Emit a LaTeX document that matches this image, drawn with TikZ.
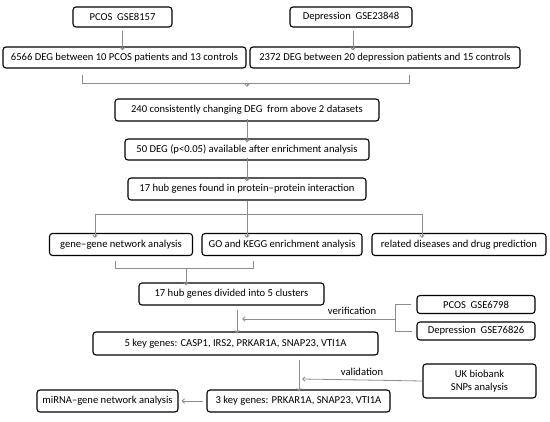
\documentclass[tikz,border=0pt]{standalone}
\usepackage{fontspec}
\setmainfont{Carlito}
\usetikzlibrary{arrows.meta}
\definecolor{lgray}{HTML}{8C8C8C}
\tikzset{
  box/.style={draw=black, line width=1.1pt, rounded corners=3pt, inner sep=0pt, align=center, font=\fontsize{10.6}{12.5}\selectfont},
  conn/.style={draw=lgray, line width=0.8pt},
  arr/.style={conn, -{Straight Barb[length=2.5pt,width=4.5pt]}},
  lbl/.style={font=\fontsize{10.6}{12.5}\selectfont, inner sep=0pt}
}
\begin{document}
\begin{tikzpicture}[x=1pt,y=-1pt]
\useasboundingbox (0,0) rectangle (550,422);
\node[box, minimum width=99, minimum height=20] (pcos1) at (122.5,17) {PCOS\ \ GSE8157};
\node[box, minimum width=122, minimum height=20] (dep1) at (351,17) {Depression\ \ GSE23848};
\node[box, minimum width=243, minimum height=21] (deg1) at (124.5,57.5) {6566 DEG between 10 PCOS patients and 13 controls};
\node[box, minimum width=270, minimum height=21] (deg2) at (385,57.5) {2372 DEG between 20 depression patients and 15 controls};
\node[box, minimum width=264, minimum height=22] (b240) at (247,110) {240 consistently changing DEG\ \ from above 2 datasets};
\node[box, minimum width=244, minimum height=21] (b50) at (247,149.5) {50 DEG (p<0.05) available after enrichment analysis};
\node[box, minimum width=238, minimum height=22] (hub) at (247,189) {17 hub genes found in protein–protein interaction};
\node[box, minimum width=143, minimum height=22] (gg) at (121,244.5) {gene–gene network analysis};
\node[box, minimum width=160, minimum height=22] (go) at (282,244.5) {GO and KEGG enrichment analysis};
\node[box, minimum width=174, minimum height=22] (rel) at (459,244.5) {related diseases and drug prediction};
\node[box, minimum width=185, minimum height=22] (div) at (231.5,294) {17 hub genes divided into 5 clusters};
\node[box, minimum width=118, minimum height=18] (pcos2) at (476,304.5) {PCOS\ \ GSE6798};
\node[box, minimum width=118, minimum height=18] (dep2) at (476,331) {Depression\ \ GSE76826};
\node[box, minimum width=285, minimum height=23] (key5) at (235.5,343.5) {5 key genes: CASP1, IRS2, PRKAR1A, SNAP23, VTI1A};
\node[box, minimum width=113, minimum height=34] (uk) at (479.5,381) {UK biobank\\SNPs analysis};
\node[box, minimum width=183, minimum height=22] (key3) at (298.5,401) {3 key genes: PRKAR1A, SNAP23, VTI1A};
\node[box, minimum width=141, minimum height=22] (mir) at (107.5,401) {miRNA–gene network analysis};
% top arrows
\draw[arr] (pcos1.south) ++(0,3) -- ([yshift=-4]deg1.north -| pcos1.south);
\draw[arr] (dep1.south) ++(2,3) coordinate (d1s) -- ([yshift=-4]deg2.north -| d1s);
% bracket under DEG boxes
\coordinate (bl) at (82,75);
\coordinate (br) at (409,75);
\coordinate (bm) at (247,83);
\draw[conn] (bl) -- (bl |- bm) -- (br |- bm) -- (br);
\draw[arr] (bm) -- ([yshift=-4]b240.north |- bm);
\draw[arr] ([yshift=3]b240.south) -- ([yshift=-4]b50.north);
\draw[arr] ([yshift=3]b50.south) -- ([yshift=-4]hub.north);
% branch from hub
\coordinate (hl) at (95,214);
\coordinate (hr) at (422,214);
\draw[conn] (hl) -- (hr);
\draw[arr] (hub.south) -- ([yshift=-5]hub.south |- go.north);
\draw[arr] (hl) -- ([yshift=-5]hl |- gg.north);
\draw[arr] (hr) -- ([yshift=-5]hr |- rel.north);
% bracket under gg and go
\coordinate (gl) at (115,261);
\coordinate (gr) at (253,261);
\coordinate (gm) at (186,268);
\draw[conn] (gl) -- (gl |- gm) -- (gr |- gm) -- (gr);
\draw[arr] (gm) -- ([yshift=-3]gm |- div.north);
% div to key5
\coordinate (dv) at (237,310);
\draw[arr] (dv) -- ([yshift=-2]dv |- key5.north);
% verification bracket
\coordinate (vb) at (395,319);
\draw[conn] (pcos2.west) ++(-5,0) -- (vb |- pcos2.west) -- (vb |- dep2.west) -- ++(17,0);
\draw[arr] (vb) -- (242,319);
\node[lbl] (ver) at (352,311) {verification};
% key5 to key3
\coordinate (kv) at (299,360);
\draw[arr] (kv) -- ([yshift=-2]kv |- key3.north);
\draw[arr] (uk.west) -- (302,379);
\node[lbl] (val) at (362,372) {validation};
\draw[arr] ([xshift=-3]key3.west) -- ([xshift=3]mir.east);
\end{tikzpicture}
\end{document}
